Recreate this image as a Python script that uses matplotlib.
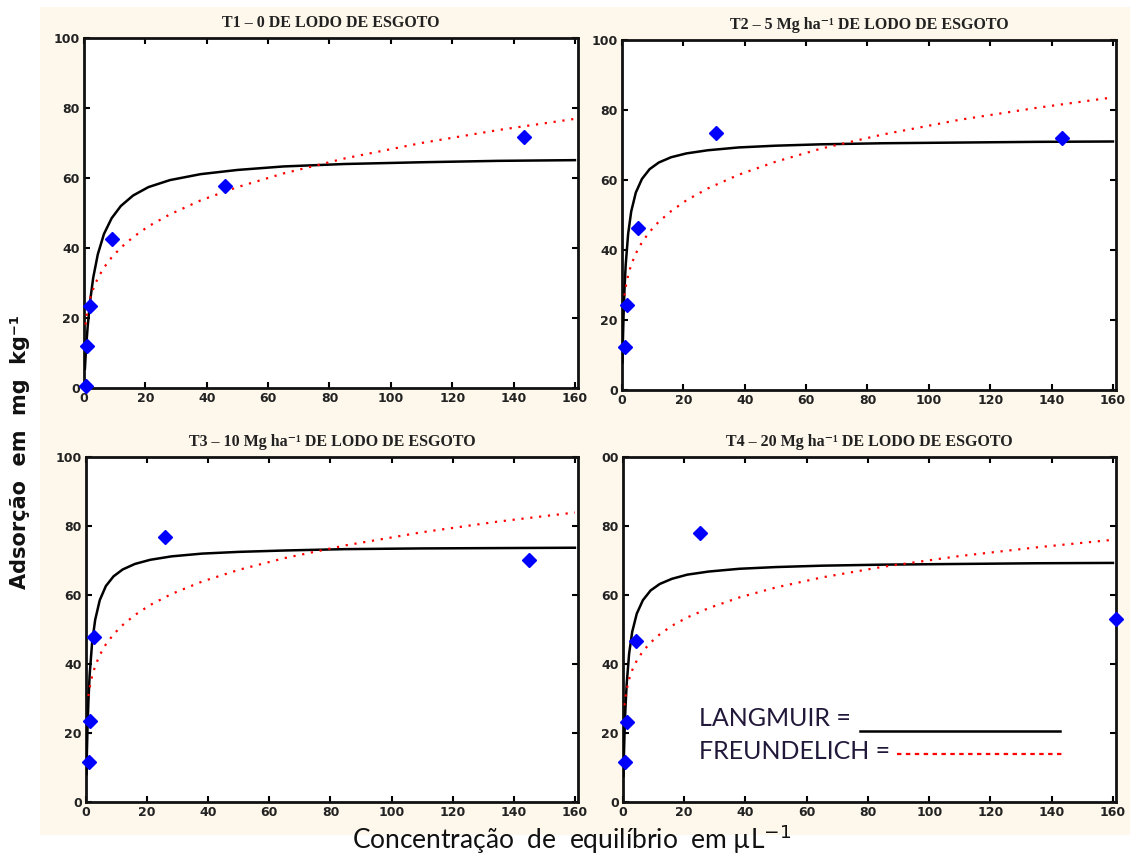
import numpy as np
import matplotlib
matplotlib.use("Agg")
import matplotlib.pyplot as plt
from matplotlib.patches import Rectangle

# panel titles
titles = ["T1 – 0 DE LODO DE ESGOTO",
          "T2 – 5 Mg ha⁻¹ DE LODO DE ESGOTO",
          "T3 – 10 Mg ha⁻¹ DE LODO DE ESGOTO",
          "T4 – 20 Mg ha⁻¹ DE LODO DE ESGOTO"]

x_fit = [0.15, 0.3, 0.5, 0.8, 1.2, 2, 3, 4.5, 6.5, 9, 12, 16, 21, 28, 38, 50, 65, 85, 110, 135, 160]

# T1
t1_obs_x = [0.5, 1.0, 1.8, 9.0, 46.0, 143.5]
t1_obs_y = [0.5, 12.0, 23.5, 42.5, 57.8, 71.7]
t1_lang = [None, 5.5, 8.7, 12.9, 17.6, 24.9, 31.5, 38.2, 44.0, 48.5, 52.0, 55.0, 57.4, 59.4, 61.1, 62.3, 63.3, 64.0, 64.5, 64.9, 65.1]
t1_freu = [None, None, 18.1, 20.3, 22.5, 25.6, 28.3, 31.4, 34.4, 37.3, 40.1, 43.1, 46.2, 49.6, 53.6, 57.4, 61.3, 65.6, 70.0, 73.7, 76.9]

# T2
t2_obs_x = [1.0, 1.5, 5.3, 30.5, 143.5]
t2_obs_y = [12.3, 24.2, 46.3, 73.4, 72.0]
t2_lang = [7.9, 14.3, 21.0, 28.5, 35.7, 44.6, 51.0, 56.4, 60.3, 63.1, 65.0, 66.5, 67.6, 68.5, 69.3, 69.8, 70.2, 70.5, 70.7, 70.9, 71.0]
t2_freu = [None, None, None, 27.0, 29.4, 32.8, 35.8, 39.0, 42.2, 45.2, 48.1, 51.1, 54.2, 57.6, 61.5, 65.2, 69.0, 73.0, 77.2, 80.6, 83.6]

# T3
t3_obs_x = [1.0, 1.3, 2.7, 25.8, 145.0]
t3_obs_y = [11.5, 23.5, 47.7, 76.9, 70.1]
t3_lang = [8.1, 14.7, 21.6, 29.4, 36.9, 46.2, 52.8, 58.5, 62.6, 65.4, 67.4, 69.0, 70.2, 71.2, 72.0, 72.5, 72.9, 73.3, 73.5, 73.6, 73.7]
t3_freu = [None, None, None, 30.7, 33.1, 36.5, 39.4, 42.6, 45.7, 48.6, 51.3, 54.2, 57.1, 60.3, 63.9, 67.3, 70.7, 74.4, 78.2, 81.3, 83.9]

# T4
t4_obs_x = [0.8, 1.4, 4.3, 25.2, 161.0]
t4_obs_y = [11.7, 23.1, 46.7, 77.9, 53.0]
t4_lang = [7.5, 13.5, 19.9, 27.2, 34.2, 43.0, 49.3, 54.6, 58.5, 61.3, 63.2, 64.7, 65.9, 66.8, 67.6, 68.1, 68.5, 68.8, 69.0, 69.2, 69.3]
t4_freu = [None, None, 28.0, 30.4, 32.6, 35.6, 38.2, 41.0, 43.7, 46.2, 48.6, 51.1, 53.5, 56.2, 59.3, 62.2, 65.1, 68.2, 71.3, 73.8, 76.0]

x_ticks = [0, 20, 40, 60, 80, 100, 120, 140, 160]
y_ticks = [0, 20, 40, 60, 80, 100]
y_ticklabels = ["0", "20", "40", "60", "80", "100"]
y_ticklabels_t4 = ["0", "20", "40", "60", "80", "00"]

panels = [
    (titles[0], t1_obs_x, t1_obs_y, t1_lang, t1_freu, y_ticklabels),
    (titles[1], t2_obs_x, t2_obs_y, t2_lang, t2_freu, y_ticklabels),
    (titles[2], t3_obs_x, t3_obs_y, t3_lang, t3_freu, y_ticklabels),
    (titles[3], t4_obs_x, t4_obs_y, t4_lang, t4_freu, y_ticklabels_t4),
]

# axes boxes in pixels: left, top, right, bottom
W, H = 1137, 857
boxes = [(84, 38, 578, 388), (622, 40, 1116, 390),
         (86, 457, 578, 802), (623, 457, 1116, 802)]

fig = plt.figure(figsize=(W / 100, H / 100), dpi=100)
fig.patch.set_facecolor("white")
fig.patches.append(Rectangle((40 / W, 1 - 835 / H), 1090 / W, 828 / H,
                             transform=fig.transFigure, facecolor="#FEF8EC",
                             edgecolor="none", zorder=-10))

dark = "#222222"
xf = np.array(x_fit, dtype=float)
axes = []
for (title, ox, oy, lang, freu, ylabs), (l, t, r, b) in zip(panels, boxes):
    ax = fig.add_axes([l / W, 1 - b / H, (r - l) / W, (b - t) / H])
    ax.set_facecolor("white")
    ax.plot(xf, np.array(lang, dtype=float), color="black", lw=1.8, zorder=3)
    ax.plot(xf, np.array(freu, dtype=float), color="red", lw=1.6,
            linestyle=(0, (1, 3)), zorder=3)
    ax.plot(ox, oy, linestyle="none", marker="D", color="#0000FF",
            markersize=7, zorder=4, clip_on=False)
    ax.set_xlim(0, 161)
    ax.set_ylim(0, 100)
    ax.set_xticks(x_ticks)
    ax.set_yticks(y_ticks)
    ax.set_yticklabels(ylabs)
    ax.tick_params(direction="in", length=4, width=1.5, top=True, right=True,
                   labelsize=9, labelcolor=dark, pad=3)
    for lab in ax.get_xticklabels() + ax.get_yticklabels():
        lab.set_fontweight("bold")
    for sp in ax.spines.values():
        sp.set_linewidth(2)
        sp.set_color("#111111")
    ax.set_title(title, fontsize=11.5, fontweight="bold", color=dark,
                 family=["Liberation Serif", "DejaVu Serif"], pad=8)
    axes.append(ax)

# legend drawn by hand inside T4
ax4 = axes[3]
leg_font = ["Lato", "DejaVu Sans"]
ax4.text(0.155, 0.243, "LANGMUIR =", transform=ax4.transAxes, fontsize=18,
         family=leg_font, color="#22183a", va="center", ha="left")
ax4.plot([0.48, 0.886], [0.206, 0.206], transform=ax4.transAxes,
         color="black", lw=1.8)
ax4.text(0.155, 0.145, "FREUNDELICH =", transform=ax4.transAxes, fontsize=18,
         family=leg_font, color="#22183a", va="center", ha="left")
ax4.plot([0.555, 0.89], [0.139, 0.139], transform=ax4.transAxes,
         color="red", lw=1.6, linestyle=(0, (2, 2)))

fig.text(20 / W, 1 - 452 / H, "Adsorção  em  mg  kg⁻¹", rotation=90,
         fontsize=15, fontweight="bold", color="#111111",
         va="center", ha="center", family=["DejaVu Sans"])
fig.text(572 / W, 1 - 839 / H, "Concentração  de  equilíbrio  em µL$^{-1}$",
         fontsize=19, color="#111111", va="center", ha="center",
         family=["Lato", "DejaVu Sans"])

fig.savefig("out.png", dpi=100)
